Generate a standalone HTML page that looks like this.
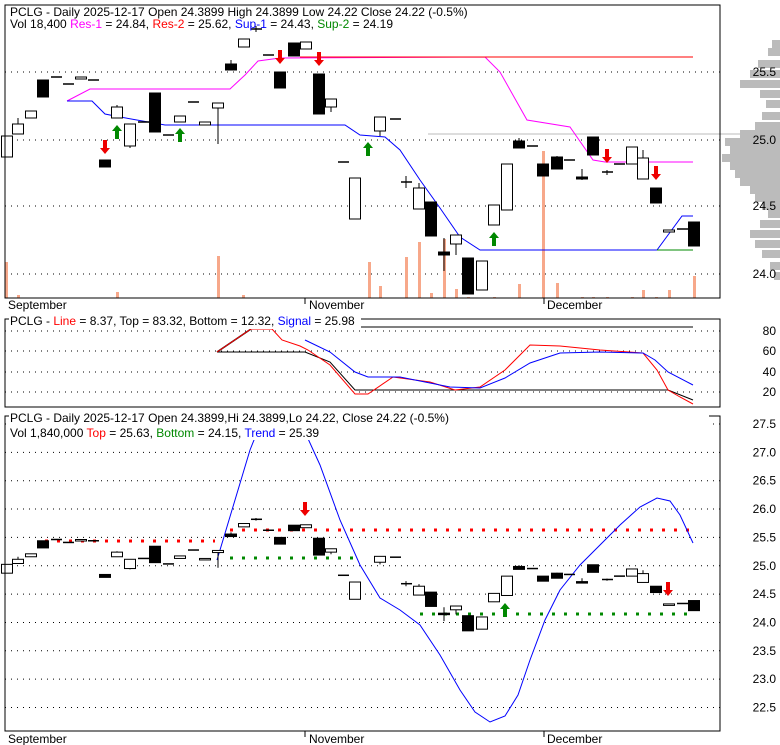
<!DOCTYPE html>
<html><head><meta charset="utf-8"><style>
body{margin:0;background:#fff;}
svg{display:block;font-family:"Liberation Sans",sans-serif;}
</style></head><body>
<svg id="s" width="780" height="745" xmlns="http://www.w3.org/2000/svg"></svg>
<script>
const S=document.getElementById('s');let h='';
function ln(x1,y1,x2,y2,c,w,d){h+=`<line x1="${x1}" y1="${y1}" x2="${x2}" y2="${y2}" stroke="${c}" stroke-width="${w||1}"${d?` stroke-dasharray="${d}"`:''}/>`;}
function pl(pts,c,w,d){h+=`<polyline points="${pts.map(p=>p.join(',')).join(' ')}" fill="none" stroke="${c}" stroke-width="${w||1}"${d?` stroke-dasharray="${d}"`:''}/>`;}
function tx(x,y,t,sz,anc){h+=`<text x="${x}" y="${y}" font-size="${sz||12}"${anc?` text-anchor="${anc}"`:''}>${t}</text>`;}
function up(x,y,c){h+=`<polygon points="${x},${y} ${x-5},${y+6} ${x-2},${y+6} ${x-2},${y+14} ${x+2},${y+14} ${x+2},${y+6} ${x+5},${y+6}" fill="${c}"/>`;}
function dn(x,y,c){h+=`<polygon points="${x},${y+14} ${x-5},${y+8} ${x-2},${y+8} ${x-2},${y} ${x+2},${y} ${x+2},${y+8} ${x+5},${y+8}" fill="${c}"/>`;}
// volume profile
[[40,8],[48,12],[60,22],[70,30],[80,40],[90,20],[100,14],[112,18],[122,25],[130,40],[138,55],[146,50],[154,58],[162,50],[170,45],[178,40],[186,30],[194,25],[202,18],[210,12],[220,20],[230,30],[240,25],[250,18],[262,10],[272,6]].forEach(r=>{h+=`<rect x="${780-r[1]}" y="${r[0]}" width="${r[1]}" height="8" fill="#bbb"/>`;});
// grid top
[72,140,206,274].forEach(y=>ln(5,y,720,y,'#000',1,'1 5'));
ln(428,134,780,134,'#bbb');
// volume bars
[[6,262],[18,295],[117,292],[218,256],[243,295],[369,262],[380,286],[406,257],[419,242],[431,293],[444,239],[456,289],[468,297],[494,297],[519,284],[532,298],[543,151],[557,283],[582,297],[593,297],[607,297],[632,297],[643,290],[656,297],[669,290],[694,276]].forEach(v=>{h+=`<rect x="${v[0]-1}" y="${v[1]}" width="3" height="${298-v[1]}" fill="#f7a88a"/>`;});
// lines top
pl([[67,101],[90,89],[230,89],[245,75],[258,61],[280,58],[485,57],[500,72],[527,120],[570,127],[593,160],[605,162],[693,162]],'#f0f');
ln(300,57,693,57,'#f00');
pl([[67,101],[92,101],[105,114],[120,117],[165,125],[345,125],[360,135],[385,137],[400,150],[420,180],[440,208],[460,237],[480,250],[657,250],[682,216],[693,216]],'#00f');
ln(657,250,693,250,'#080');
// candles [x,o,c,hi,lo,filled]  (top panel pixels)
const C=[[7,157,136,136,157,0],[18,134,124,118,134,0],[31,118,111,111,118,0],[43,80,97,80,97,1],[56,77,77,77,77,2],[68,84,84,84,84,2],[81,79,77,77,79,0],[93,80,80,80,80,2],[105,160,167,160,167,1],[117,118,107,105,118,0],[130,146,124,124,148,0],[143,122,122,122,122,2],[155,93,132,93,132,1],[168,135,135,135,135,2],[180,122,116,116,122,0],[193,102,102,102,102,2],[205,125,122,122,125,0],[218,108,103,103,144,0],[231,64,70,60,70,1],[244,47,39,39,47,0],[256,29,29,26,32,2],[268,55,55,55,55,2],[280,72,88,72,88,1],[294,43,56,43,56,1],[306,49,42,42,49,0],[319,74,114,74,114,1],[331,107,99,99,112,0],[343,162,162,162,162,2],[355,219,178,178,219,0],[380,131,117,117,136,0],[395,119,119,119,119,2],[406,182,182,176,188,2],[419,209,188,183,209,0],[431,202,236,202,236,1],[444,252,255,238,271,1],[456,244,235,235,255,0],[468,258,294,258,294,1],[482,290,261,261,290,0],[494,225,205,205,225,0],[507,210,164,164,210,0],[519,141,148,138,148,1],[532,146,146,146,146,2],[543,164,176,164,176,1],[557,157,169,156,169,1],[569,160,160,160,160,2],[582,177,179,169,180,1],[593,137,155,137,155,1],[607,172,172,170,175,2],[619,164,164,164,164,2],[632,164,147,147,164,0],[643,179,158,150,179,0],[656,188,203,188,203,1],[669,232,230,230,232,0],[682,229,229,229,229,2],[694,222,246,222,246,1]];
function P(y){return 25.5-(y-72)/134.7;}
function B(p){return 424+(27.5-p)*56.7;}
function candle(c,f){const [x,o,cl,hi,lo,t]=c.map((v,i)=>i>0&&i<5?f(v):v);
 ln(x,hi,x,lo,'#000');
 if(t==2){ln(x-5,o,x+6,o,'#000',1.5);return;}
 const top=Math.min(o,cl),ht=Math.max(1.5,Math.abs(cl-o));
 h+=`<rect x="${x-5.5}" y="${top}" width="11" height="${ht}" fill="${t?'#000':'#fff'}" stroke="#000"/>`;}
C.forEach(c=>candle(c,v=>v));
up(117,125,'#080');up(180,128,'#080');up(368,142,'#080');up(494,232,'#080');
dn(105,140,'#e00');dn(280,50,'#e00');dn(319,52,'#e00');dn(607,149,'#e00');dn(656,166,'#e00');
h+=`<rect x="5" y="5" width="715" height="293" fill="none" stroke="#000"/>`;
h+=`<text x="10" y="16" font-size="12">PCLG - Daily 2025-12-17 Open 24.3899  High 24.3899  Low 24.22  Close 24.22 (-0.5%)</text>`;
h+=`<text x="10" y="26" font-size="12" dy="2">Vol 18,400 <tspan fill="#f0f">Res-1</tspan> = 24.84, <tspan fill="#f00">Res-2</tspan> = 25.62, <tspan fill="#00f">Sup-1</tspan> = 24.43, <tspan fill="#080">Sup-2</tspan> = 24.19</text>`;
[[72,'25.5'],[140,'25.0'],[206,'24.5'],[274,'24.0']].forEach(a=>tx(776,a[0]+4,a[1],12,'end'));
// x axis labels
tx(8,309,'September');tx(309,309,'November');tx(547,309,'December');
ln(305,298,305,304,'#000');ln(544,298,544,304,'#000');
// middle
[331,351,372,392].forEach(y=>ln(5,y,720,y,'#000',1,'1 5'));
[[331,'80'],[351,'60'],[372,'40'],[392,'20']].forEach(a=>tx(776,a[0]+4,a[1],12,'end'));
ln(360,327,693,327,'#000');
pl([[217,352],[251,329]],'#000',1.5);
pl([[217,352],[305,352],[330,362],[355,390],[668,390],[693,400]],'#000');
pl([[217,352],[251,329],[272,329],[282,340],[300,346],[308,350],[330,365],[355,394],[368,394],[393,377],[430,382],[455,390],[480,387],[505,370],[530,345],[560,346],[600,350],[643,353],[657,370],[668,390],[680,397],[693,404]],'#f00');
pl([[305,340],[330,352],[355,372],[368,377],[400,377],[450,387],[480,388],[505,378],[530,363],[560,353],[600,352],[643,353],[655,360],[668,372],[693,385]],'#00f');
h+=`<rect x="5" y="319" width="715" height="88" fill="none" stroke="#000"/>`;
h+=`<rect x="9" y="316" width="352" height="13" fill="#fff"/>`;
h+=`<text x="10" y="325" font-size="12">PCLG - <tspan fill="#f00">Line</tspan> = 8.37, Top = 83.32, Bottom = 12.32, <tspan fill="#00f">Signal</tspan> = 25.98</text>`;
// bottom
[27.5,27,26.5,26,25.5,25,24.5,24,23.5,23,22.5].forEach(p=>{const y=B(p);ln(5,y,720,y,'#000',1,'1 5');tx(776,y+4,p.toFixed(1),12,'end');});
ln(45,541,215,541,'#f00',3,'3 9');ln(230,530,693,530,'#f00',3,'3 9');
ln(230,558,360,558,'#080',3,'3 9');ln(420,614,693,614,'#080',3,'3 9');
pl([[217,560],[235,500],[250,450],[262,420],[275,412],[290,418],[305,432],[320,465],[340,520],[360,565],[380,598],[400,610],[420,625],[440,655],[460,690],[475,712],[490,722],[505,716],[518,695],[530,660],[545,620],[560,590],[580,565],[600,545],[620,525],[640,507],[657,498],[670,501],[680,515],[693,543]],'#00f');
C.forEach(c=>candle(c,v=>B(P(v))));
up(505,603,'#080');dn(305,502,'#e00');dn(668,582,'#e00');
h+=`<rect x="0" y="408" width="720" height="32" fill="none"/>`;
h+=`<rect x="5" y="416" width="715" height="315" fill="none" stroke="#000"/>`;
h+=`<rect x="9" y="410" width="700" height="30" fill="#fff"/>`;
h+=`<text x="10" y="422" font-size="12">PCLG - Daily 2025-12-17 Open 24.3899,Hi 24.3899,Lo 24.22, Close 24.22 (-0.5%)</text>`;
h+=`<text x="10" y="437" font-size="12">Vol 1,840,000 <tspan fill="#f00">Top</tspan> = 25.63, <tspan fill="#080">Bottom</tspan> = 24.15, <tspan fill="#00f">Trend</tspan> = 25.39</text>`;
tx(8,743,'September');tx(309,743,'November');tx(547,743,'December');
ln(305,731,305,737,'#000');ln(544,731,544,737,'#000');
S.innerHTML=h;
</script>
</body></html>
